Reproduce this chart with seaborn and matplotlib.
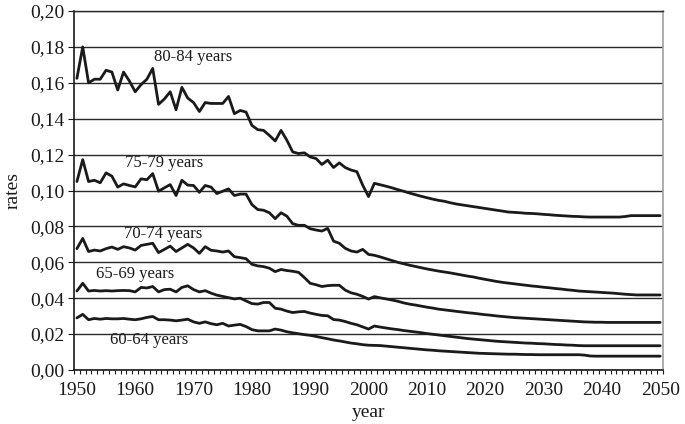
import numpy as np
import pandas as pd
import matplotlib
matplotlib.use("Agg")
import matplotlib.pyplot as plt
from matplotlib.ticker import FuncFormatter, FixedLocator
import seaborn as sns

years = list(range(1950, 2051))

r80 = [
    .1625, .180, .160, .162, .162, .167, .166, .156, .166, .161,
    .155, .159, .162, .168, .148, .151, .155, .145, .1575, .1515,
    .149, .144, .149, .1485, .1485, .1485, .1524, .1428, .1446, .1437,
    .1363, .1339, .1335, .1307, .1276, .1335, .128, .1215, .1206, .121,
    .1187, .1178, .1145, .1169, .1128, .1154, .1128, .1114, .1105, .103,
    .0966, .104, .1032, .1024, .1015, .1005, .0996, .0986, .0977, .0968,
    .096, .0952, .0945, .094, .0932, .0925, .092, .0915, .091, .0905,
    .090, .0895, .089, .0885, .088, .0878, .0876, .0873, .0872, .087,
    .0867, .0865, .0862, .086, .0858, .0856, .0855, .0853, .0852, .0852,
    .0852, .0852, .0852, .0852, .0855, .086, .086, .086, .086, .086,
    .086]

r75 = [
    .105, .1172, .105, .1057, .1043, .1098, .108, .1019, .1037, .1028,
    .102, .1065, .106, .1094, .0996, .1015, .1033, .0972, .1057, .103,
    .1028, .099, .1028, .1019, .0983, .0996, .1009, .0972, .098, .098,
    .0922, .0894, .089, .0876, .0843, .0876, .0857, .0815, .0806, .0806,
    .0787, .078, .0774, .0789, .0718, .0706, .0678, .0663, .0657, .0672,
    .0644, .0639, .063, .062, .061, .060, .0592, .0584, .0577, .057,
    .0563, .0557, .0551, .0546, .0541, .0535, .0529, .0523, .0518, .0511,
    .0505, .0499, .0493, .0488, .0484, .048, .0476, .0472, .0468, .0465,
    .0461, .0458, .0454, .0451, .0447, .0444, .044, .0438, .0436, .0434,
    .0432, .043, .0428, .0425, .0422, .042, .0418, .0418, .0418, .0418,
    .0418]

r70 = [
    .0676, .0733, .066, .0668, .0663, .0676, .0685, .0672, .0687, .068,
    .0668, .0694, .070, .0706, .0654, .0672, .069, .066, .068, .070,
    .068, .065, .0687, .0667, .0663, .0657, .0663, .0631, .0626, .062,
    .0589, .058, .0576, .0567, .0548, .056, .0554, .055, .0544, .0515,
    .0483, .0475, .0465, .047, .0472, .0472, .0445, .043, .0422, .041,
    .0395, .0409, .0402, .0396, .039, .0383, .0374, .0367, .0362, .0356,
    .035, .0345, .0339, .0335, .0331, .0327, .0323, .0319, .0316, .0312,
    .0308, .0305, .0301, .0298, .0295, .0292, .029, .0288, .0286, .0284,
    .0282, .028, .0278, .0276, .0274, .0272, .027, .0268, .0267, .0266,
    .0266, .0265, .0265, .0265, .0265, .0265, .0265, .0265, .0265, .0265,
    .0265]

r65 = [
    .044, .0483, .044, .0443, .044, .0442, .044, .0442, .0443, .0442,
    .0435, .046, .0457, .0465, .0435, .0448, .045, .0435, .046, .0469,
    .0448, .0435, .0442, .0428, .0417, .041, .0403, .0396, .040, .0385,
    .037, .0367, .0376, .0376, .0344, .0339, .0328, .032, .0324, .0326,
    .0317, .031, .0304, .0302, .0281, .0278, .027, .026, .0252, .024,
    .0228, .0245, .0239, .0234, .0229, .0225, .022, .0216, .0212, .0208,
    .0203, .0199, .0195, .0191, .0187, .0183, .0179, .0175, .0172, .0169,
    .0166, .0163, .016, .0158, .0156, .0154, .0152, .015, .0149, .0147,
    .0146, .0144, .0142, .0141, .0139, .0138, .0136, .0135, .0135, .0135,
    .0135, .0135, .0135, .0135, .0135, .0135, .0135, .0135, .0135, .0135,
    .0135]

r60 = [
    .029, .031, .028, .0287, .0283, .0287, .0285, .0285, .0287, .0283,
    .028, .0285, .0293, .0298, .028, .028, .0278, .0274, .0278, .0283,
    .0268, .026, .0268, .0258, .0252, .026, .0245, .025, .0254, .0242,
    .0225, .0218, .0218, .0218, .0228, .0222, .0213, .0207, .0202, .0197,
    .0193, .0187, .018, .0174, .0167, .0162, .0156, .015, .0146, .0141,
    .0138, .0137, .0136, .0133, .013, .0127, .0124, .0121, .0118, .0115,
    .0112, .011, .0107, .0105, .0103, .0101, .0099, .0097, .0095, .0093,
    .0092, .0091, .009, .0089, .0088, .0088, .0087, .0086, .0086, .0085,
    .0085, .0085, .0085, .0085, .0085, .0085, .0085, .0083, .0078, .0077,
    .0077, .0077, .0077, .0077, .0077, .0077, .0077, .0077, .0077, .0077,
    .0077]

groups = ["80-84 years", "75-79 years", "70-74 years", "65-69 years", "60-64 years"]
series = [r80, r75, r70, r65, r60]
label_year = [1963.3, 1958.2, 1958.0, 1953.2, 1955.6]
label_rate = [0.1745, 0.1155, 0.0755, 0.0535, 0.0165]

y_ticks = [0.00, 0.02, 0.04, 0.06, 0.08, 0.10, 0.12, 0.14, 0.16, 0.18, 0.20]
x_ticks = list(range(1950, 2051, 10))

frames = []
for g, vals in zip(groups, series):
    frames.append(pd.DataFrame({"year": years, "rate": vals, "group": g}))
df = pd.concat(frames, ignore_index=True)

sns.set_theme(style="white")
plt.rcParams["font.family"] = ["Liberation Serif", "DejaVu Serif"]

fig = plt.figure(figsize=(6.85, 4.24), dpi=100)
ax = fig.add_axes([0.108, 0.1274, 0.860, 0.8466])

ax.yaxis.grid(True, color="#2a2a2a", linewidth=1.0)
ax.xaxis.grid(False)
ax.set_axisbelow(True)

sns.lineplot(data=df, x="year", y="rate", hue="group",
             palette={g: "#1a1a1a" for g in groups},
             linewidth=2.0, legend=False, ax=ax)

for g, xx, yy in zip(groups, label_year, label_rate):
    ax.text(xx, yy, g, fontsize=12, ha="left", va="center", color="#1a1a1a")

ax.set_xlim(1949.5, 2050.5)
ax.set_ylim(0, 0.20)
ax.set_yticks(y_ticks)
ax.yaxis.set_major_formatter(FuncFormatter(lambda v, p: f"{v:.2f}".replace(".", ",")))
ax.set_xticks(x_ticks)
ax.xaxis.set_minor_locator(FixedLocator([y + 0.5 for y in range(1949, 2051)]))
ax.tick_params(axis="x", which="major", length=0, labelsize=14, pad=9, colors="#1a1a1a")
ax.tick_params(axis="x", which="minor", length=3, width=0.8, direction="out", bottom=True, color="#1a1a1a")
ax.tick_params(axis="y", which="major", length=4, width=0.8, direction="out", left=True,
               labelsize=14, pad=3, colors="#1a1a1a")

for side in ["left", "bottom"]:
    ax.spines[side].set_color("#1a1a1a")
    ax.spines[side].set_linewidth(1.2)
ax.spines["top"].set_color("#2a2a2a")
ax.spines["top"].set_linewidth(1.0)
ax.spines["right"].set_color("#a0a0a0")
ax.spines["right"].set_linewidth(1.2)

ax.set_xlabel("year", fontsize=14, color="#1a1a1a", labelpad=3)
ax.set_ylabel("rates", fontsize=14, color="#1a1a1a", labelpad=6)

fig.savefig("out.png", dpi=100, facecolor="white")
